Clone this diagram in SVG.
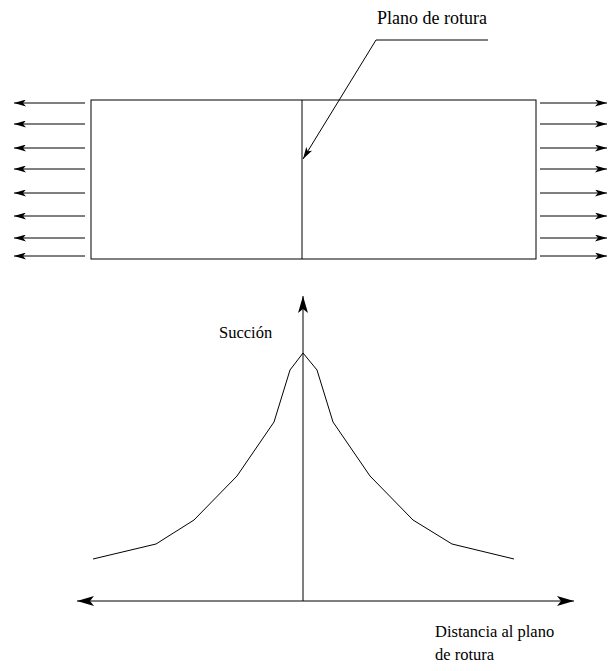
<svg xmlns="http://www.w3.org/2000/svg" width="610" height="671" viewBox="0 0 610 671">
<defs>
<marker id="ah" viewBox="0 0 12 7" refX="12" refY="3.5" markerWidth="12" markerHeight="7" markerUnits="userSpaceOnUse" orient="auto-start-reverse">
<path d="M0,0 L12,3.5 L0,7 L3,3.5 Z" fill="#000"/>
</marker>
<marker id="ahb" viewBox="0 0 17 10" refX="17" refY="5" markerWidth="17" markerHeight="10" markerUnits="userSpaceOnUse" orient="auto-start-reverse">
<path d="M0,0 L17,5 L0,10 L4,5 Z" fill="#000"/>
</marker>
</defs>
<style>
.ln{stroke:#000;stroke-width:1;fill:none}
.fa{stroke:#000;stroke-width:1;fill:none;marker-end:url(#ah)}
.t{font-family:"Liberation Serif","Times New Roman","DejaVu Serif",serif;font-size:16.5px;fill:#000}
</style>
<rect width="610" height="671" fill="#fff"/>
<g id="specimen">
<rect x="91" y="100" width="445" height="159" class="ln"/>
<line x1="302" y1="100" x2="302" y2="259" class="ln"/>
</g>
<g id="label-plano">
<text x="377" y="24" class="t" style="font-size:18px">Plano de rotura</text>
</g>
<g id="connectors">
<polyline points="488,40 376,40 303,159" class="ln" style="marker-end:url(#ah)"/>
<g id="left-forces">
<line x1="85" y1="103" x2="14" y2="103" class="fa"/>
<line x1="85" y1="124" x2="14" y2="124" class="fa"/>
<line x1="85" y1="148" x2="14" y2="148" class="fa"/>
<line x1="85" y1="169" x2="14" y2="169" class="fa"/>
<line x1="85" y1="193" x2="14" y2="193" class="fa"/>
<line x1="85" y1="216" x2="14" y2="216" class="fa"/>
<line x1="85" y1="238" x2="14" y2="238" class="fa"/>
<line x1="85" y1="256" x2="14" y2="256" class="fa"/>
</g>
<g id="right-forces">
<line x1="540" y1="103" x2="607" y2="103" class="fa"/>
<line x1="540" y1="124" x2="607" y2="124" class="fa"/>
<line x1="540" y1="148" x2="607" y2="148" class="fa"/>
<line x1="540" y1="169" x2="607" y2="169" class="fa"/>
<line x1="540" y1="193" x2="607" y2="193" class="fa"/>
<line x1="540" y1="216" x2="607" y2="216" class="fa"/>
<line x1="540" y1="238" x2="607" y2="238" class="fa"/>
<line x1="540" y1="256" x2="607" y2="256" class="fa"/>
</g>
<line x1="303" y1="601" x2="303" y2="296" class="ln" style="marker-end:url(#ahb)"/>
<line x1="77" y1="601" x2="574" y2="601" class="ln" style="marker-start:url(#ahb);marker-end:url(#ahb)"/>
</g>
<g id="curve">
<polyline points="93,559 156,544 194,520 237,476 274,422 290,370 303,353 317,370 333,422 370,476 413,520 452,544 514,559" class="ln"/>
</g>
<g id="label-succion">
<text x="219" y="338" class="t">Succión</text>
</g>
<g id="label-distancia">
<text x="435" y="637" class="t">Distancia al plano</text>
<text x="435" y="660" class="t">de rotura</text>
</g>
</svg>
